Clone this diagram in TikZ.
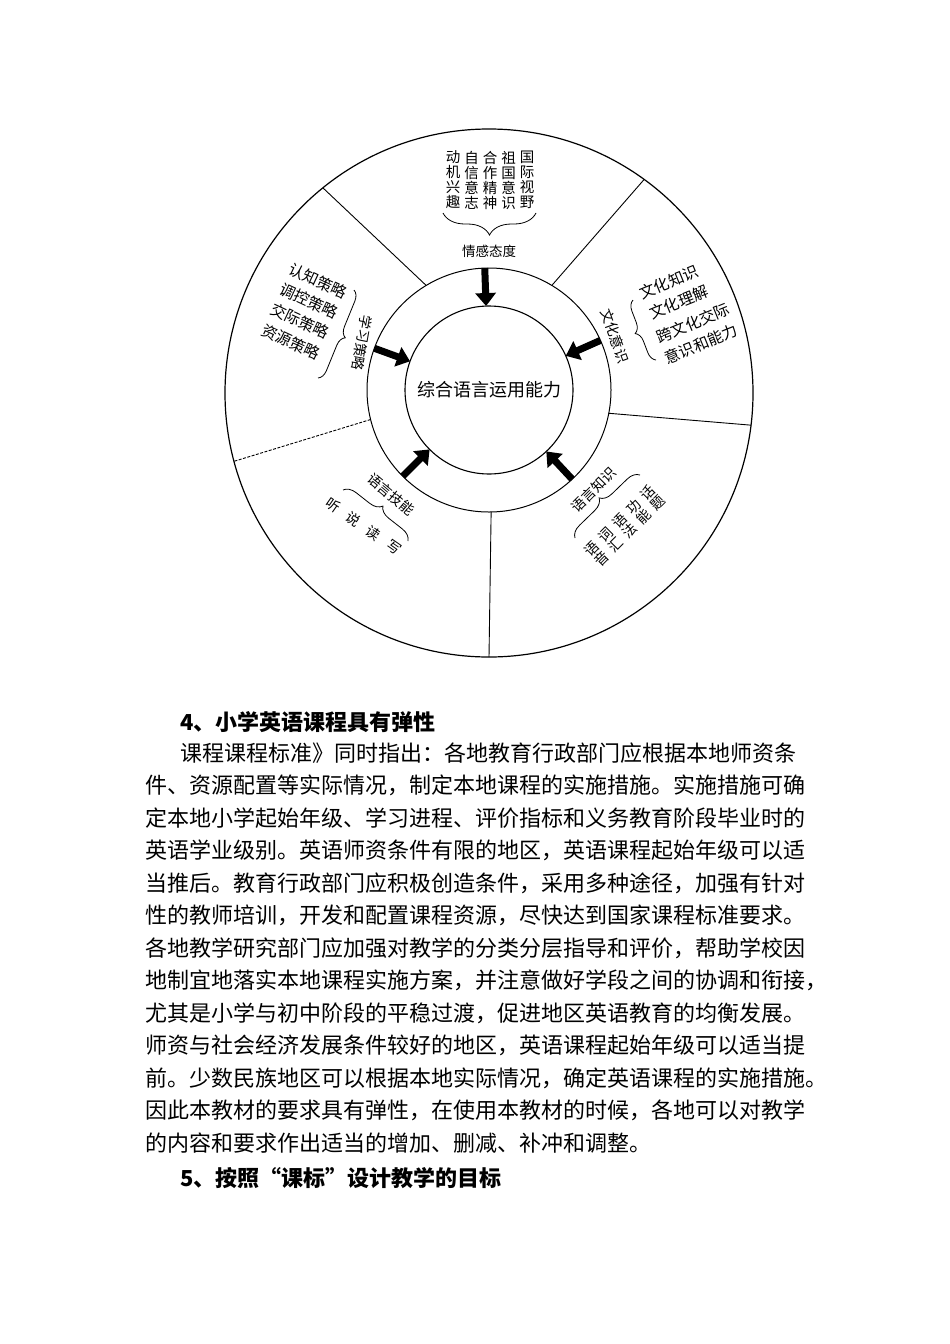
\documentclass[tikz,border=0pt]{standalone}
\usepackage{fontspec}
\setmainfont{Noto Sans CJK SC}
\usetikzlibrary{calc,arrows.meta,decorations.pathreplacing}
\tikzset{
  lbl/.style={font=\fontsize{14}{15}\selectfont, inner sep=0pt},
  col/.style={font=\fontsize{14.5}{15}\selectfont, align=center, inner sep=0pt},
  item/.style={font=\fontsize{15.5}{16}\selectfont, inner sep=0pt},
  ch/.style={font=\fontsize{14}{15}\selectfont, inner sep=0pt},
  body/.style={font=\fontsize{22}{24}\selectfont, anchor=west, inner sep=0pt},
  head/.style={font=\fontsize{22}{24}\selectfont\bfseries, anchor=west, inner sep=0pt},
  bigarrow/.style={line width=7pt, -{Triangle[length=13pt,width=20pt]}},
  bracestyle/.style={decorate, decoration={brace, amplitude=#1}, line width=0.8pt},
  divider/.style={line width=0.9pt},
}
\begin{document}
\begin{tikzpicture}[x=1pt,y=-1pt]
\useasboundingbox (0,0) rectangle (950,1344);
\fill[white] (0,0) rectangle (950,1344);

% circles
\node[circle, draw, line width=1.2pt, minimum size=528pt, inner sep=0pt, outer sep=0pt] (outer) at (489,393) {};
\node[circle, draw, line width=1pt, minimum size=244pt, inner sep=0pt, outer sep=0pt] (ring) at (489,390) {};
\node[circle, draw, line width=1.1pt, minimum size=168pt, inner sep=0pt, outer sep=0pt,
      font=\fontsize{18}{20}\selectfont] (core) at (489,390) {综合语言运用能力};

% dividers
\draw[divider] (ring.121) -- (outer.129);
\draw[divider] (ring.59) -- (outer.54);
\draw[divider] (ring.-11) -- (outer.-7.5);
\draw[divider, dash pattern=on 3pt off 1.5pt] (ring.194) -- (outer.195.5);
\draw[divider] (ring.-89.6) -- (outer.-90.6);

% arrows
\draw[bigarrow] (ring.92.4) -- (core.92.4);
\draw[bigarrow] (ring.24) -- (core.24);
\draw[bigarrow] (ring.160) -- (core.160);
\draw[bigarrow] (ring.225) -- (core.225);
\draw[bigarrow] (ring.-47) -- (core.-47);

% top: emotion & attitude
\node[col] (c1) at (527,180) {国\\际\\视\\野};
\node[col] (c2) at (508.5,180) {祖\\国\\意\\识};
\node[col] (c3) at (490,180) {合\\作\\精\\神};
\node[col] (c4) at (471.5,180) {自\\信\\意\\志};
\node[col] (c5) at (453,180) {动\\机\\兴\\趣};
\coordinate (b1a) at (536,213);
\coordinate (b1b) at (443,213);
\draw[bracestyle=22pt] (b1a) -- (b1b);
\node[font=\fontsize{13.5}{14}\selectfont, inner sep=0pt] (qg) at (489,251) {情感态度};

% left: learning strategies
\node[lbl, rotate=-100] (xx) at (362,343) {学习策略};
\node[item, rotate=-25] (s1) at (318,281) {认知策略};
\node[item, rotate=-25] (s2) at (309,301) {调控策略};
\node[item, rotate=-25] (s3) at (300,321) {交际策略};
\node[item, rotate=-25] (s4) at (291,342) {资源策略};
\coordinate (b2a) at (354,290);
\coordinate (b2b) at (318,378);
\draw[bracestyle=10pt] (b2a) -- (b2b);

% right: cultural awareness
\node[lbl, rotate=-70] (wh) at (615,336) {文化意识};
\node[item, rotate=22] (w1) at (669,282) {文化知识};
\node[item, rotate=22] (w2) at (679,302) {文化理解};
\node[item, rotate=22] (w3) at (693,323) {跨文化交际};
\node[item, rotate=22] (w4) at (701,344) {意识和能力};
\coordinate (b3a) at (656,360);
\coordinate (b3b) at (633,300);
\draw[bracestyle=10pt] (b3a) -- (b3b);

% lower right: language knowledge
\node[lbl, rotate=45] (zs) at (594,490) {语言知识};
\node[ch, rotate=45] (k1a) at (648,493) {话};
\node[ch, rotate=45] (k1b) at (658,503) {题};
\node[ch, rotate=45] (k2a) at (634,507) {功};
\node[ch, rotate=45] (k2b) at (644,517) {能};
\node[ch, rotate=45] (k3a) at (620,521) {语};
\node[ch, rotate=45] (k3b) at (630,531) {法};
\node[ch, rotate=45] (k4a) at (606,535) {词};
\node[ch, rotate=45] (k4b) at (616,545) {汇};
\node[ch, rotate=45] (k5a) at (592,549) {语};
\node[ch, rotate=45] (k5b) at (602,559) {音};
\coordinate (b4a) at (575,538);
\coordinate (b4b) at (640,475);
\draw[bracestyle=12pt] (b4a) -- (b4b);

% lower left: language skills
\node[lbl, rotate=-40] (jn) at (391,494) {语言技能};
\node[ch, rotate=-35] (h1) at (333,505) {听};
\node[ch, rotate=-35] (h2) at (353,519) {说};
\node[ch, rotate=-35] (h3) at (373,533) {读};
\node[ch, rotate=-35] (h4) at (394,547) {写};
\coordinate (b5a) at (343,490);
\coordinate (b5b) at (408,541);
\draw[bracestyle=12pt] (b5a) -- (b5b);

% body text
\node[head] (h4t) at (180,722) {4、小学英语课程具有弹性};
\node[body] (l0) at (180,753) {课程课程标准》同时指出：各地教育行政部门应根据本地师资条};
\node[body] (l1) at (145,785.5) {件、资源配置等实际情况，制定本地课程的实施措施。实施措施可确};
\node[body] (l2) at (145,818) {定本地小学起始年级、学习进程、评价指标和义务教育阶段毕业时的};
\node[body] (l3) at (145,850.5) {英语学业级别。英语师资条件有限的地区，英语课程起始年级可以适};
\node[body] (l4) at (145,883) {当推后。教育行政部门应积极创造条件，采用多种途径，加强有针对};
\node[body] (l5) at (145,915.5) {性的教师培训，开发和配置课程资源，尽快达到国家课程标准要求。};
\node[body] (l6) at (145,948) {各地教学研究部门应加强对教学的分类分层指导和评价，帮助学校因};
\node[body] (l7) at (145,980.5) {地制宜地落实本地课程实施方案，并注意做好学段之间的协调和衔接，};
\node[body] (l8) at (145,1013) {尤其是小学与初中阶段的平稳过渡，促进地区英语教育的均衡发展。};
\node[body] (l9) at (145,1045.5) {师资与社会经济发展条件较好的地区，英语课程起始年级可以适当提};
\node[body] (l10) at (145,1078) {前。少数民族地区可以根据本地实际情况，确定英语课程的实施措施。};
\node[body] (l11) at (145,1110.5) {因此本教材的要求具有弹性，在使用本教材的时候，各地可以对教学};
\node[body] (l12) at (145,1143) {的内容和要求作出适当的增加、删减、补冲和调整。};
\node[head] (h5t) at (180,1178) {5、按照“课标”设计教学的目标};
\end{tikzpicture}
\end{document}
